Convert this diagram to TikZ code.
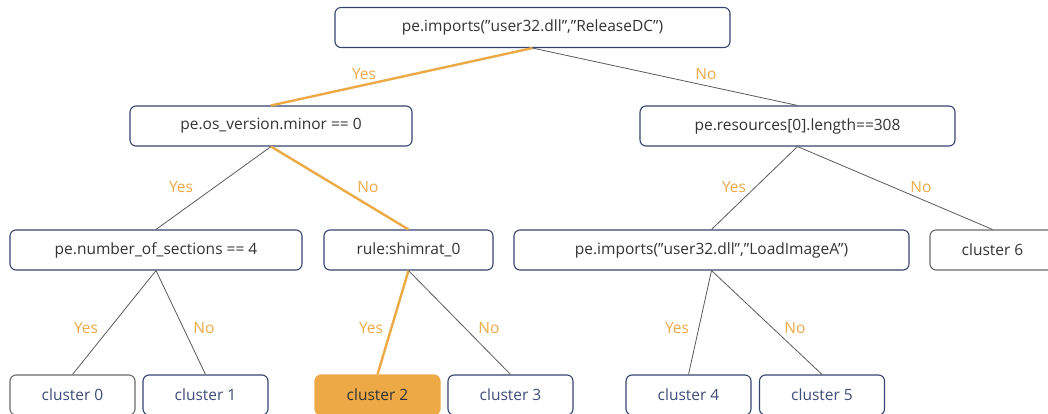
\documentclass[tikz,border=0pt]{standalone}
\usepackage{fontspec}
\setmainfont{Open Sans}
\definecolor{hlorange}{HTML}{EDA946}
\definecolor{boxnavy}{HTML}{34446F}
\definecolor{boxgray}{HTML}{6A6A6A}
\definecolor{txtgray}{HTML}{333333}
\definecolor{txtnavy}{HTML}{3E4C7A}
\definecolor{edgegray}{HTML}{5A5A5A}
\newcommand{\qt}{\char"22\relax}

\begin{document}
\begin{tikzpicture}[x=1pt,y=-1pt,
    every node/.style={font=\fontsize{15.5}{18}\selectfont},
    test/.style={draw=boxnavy,line width=1.1pt,rounded corners=6pt,
      minimum height=40pt,inner sep=0pt,text=txtgray},
    leaf/.style={test,minimum width=125pt,text=txtnavy},
    grayleaf/.style={leaf,draw=boxgray},
    pickleaf/.style={leaf,draw=hlorange,fill=hlorange,text=txtgray},
    branch/.style={draw=edgegray,line width=0.8pt},
    pick/.style={draw=hlorange,line width=2.4pt},
    answer/.style={text=hlorange,font=\fontsize{15.5}{18}\selectfont}]
  \useasboundingbox (0,0) rectangle (1048,414);

  %%%%% TESTS %%%%%
  \node[test,minimum width=395pt] (releasedc) at (532.5,27.5) {pe.imports(\qt user32.dll\qt,\qt ReleaseDC\qt)};
  \node[test,minimum width=282pt] (osminor) at (271,126) {pe.os\_version.minor == 0};
  \node[test,minimum width=315pt] (reslen) at (797.5,126) {pe.resources[0].length==308};
  \node[test,minimum width=292pt] (nsections) at (156,250) {pe.number\_of\_sections == 4};
  \node[test,minimum width=169pt] (shimrat) at (408.5,250) {rule:shimrat\_0};
  \node[test,minimum width=395pt] (loadimage) at (711.5,250) {pe.imports(\qt user32.dll\qt,\qt LoadImageA\qt)};

  %%%%% CLUSTERS %%%%%
  \node[grayleaf] (cl0) at (72.5,395) {cluster 0};
  \node[leaf] (cl1) at (205.5,395) {cluster 1};
  \node[pickleaf] (cl2) at (377.5,395) {cluster 2};
  \node[leaf] (cl3) at (510.5,395) {cluster 3};
  \node[leaf] (cl4) at (688.5,395) {cluster 4};
  \node[leaf] (cl5) at (822,395) {cluster 5};
  \node[grayleaf,text=txtgray] (cl6) at (992.5,250) {cluster 6};

  %%%%% BRANCHES %%%%%
  \draw[pick] (releasedc.south) -- (osminor.north);
  \draw[branch] (releasedc.south) -- (reslen.north);
  \draw[branch] (osminor.south) -- (nsections.north);
  \draw[pick] (osminor.south) -- (shimrat.north);
  \draw[branch] (reslen.south) -- (loadimage.north);
  \draw[branch] (reslen.south) -- (cl6.north);
  \draw[branch] (nsections.south) -- (cl0.north);
  \draw[branch] (nsections.south) -- (cl1.north);
  \draw[pick] (shimrat.south) -- (cl2.north);
  \draw[branch] (shimrat.south) -- (cl3.north);
  \draw[branch] (loadimage.south) -- (cl4.north);
  \draw[branch] (loadimage.south) -- (cl5.north);

  %%%%% ANSWERS %%%%%
  \node[answer] (y1) at (364,74) {Yes};
  \node[answer] (n1) at (706,74) {No};
  \node[answer] (y2) at (181,187) {Yes};
  \node[answer] (n2) at (368,187) {No};
  \node[answer] (y3) at (734,187) {Yes};
  \node[answer] (n3) at (921,187) {No};
  \node[answer] (y4) at (86,328) {Yes};
  \node[answer] (n4) at (204,328) {No};
  \node[answer] (y5) at (371,328) {Yes};
  \node[answer] (n5) at (489,328) {No};
  \node[answer] (y6) at (677,328) {Yes};
  \node[answer] (n6) at (795,328) {No};
\end{tikzpicture}
\end{document}
